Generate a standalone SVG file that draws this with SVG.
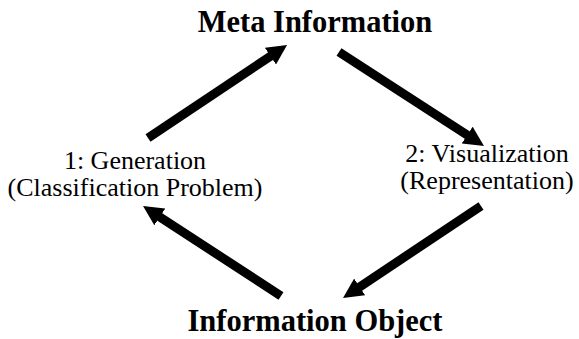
<svg xmlns="http://www.w3.org/2000/svg" width="579" height="339" viewBox="0 0 579 339">
  <style>
    text { font-family: 'Liberation Serif', Tinos, 'Times New Roman', Times, serif; fill: #000; text-anchor: middle; }
    .title { font-weight: bold; font-size: 30.5px; }
    .label { font-size: 26px; }
    .conn { stroke: #000; stroke-width: 9; fill: none; marker-end: url(#head); }
  </style>
  <defs>
    <marker id="head" viewBox="0 0 20 20" refX="5" refY="10" markerWidth="20" markerHeight="20" markerUnits="userSpaceOnUse" orient="auto">
      <path d="M0,0 L20,10 L0,20 z" fill="#000"/>
    </marker>
  </defs>
  <rect width="579" height="339" fill="#fff"/>

  <g id="meta-information">
    <text class="title" x="315" y="32" font-family="Liberation Serif">Meta Information</text>
  </g>
  <g id="generation">
    <text class="label" x="135" y="169" font-family="Liberation Serif">1: Generation</text>
    <text class="label" x="135" y="195.5" font-family="Liberation Serif">(Classification Problem)</text>
  </g>
  <g id="visualization">
    <text class="label" x="487" y="162" font-family="Liberation Serif">2: Visualization</text>
    <text class="label" x="487" y="188.5" font-family="Liberation Serif">(Representation)</text>
  </g>
  <g id="information-object">
    <text class="title" x="315" y="331" font-family="Liberation Serif">Information Object</text>
  </g>

  <g id="connectors">
    <line class="conn" x1="148" y1="138" x2="274.6" y2="53.4"/>
    <line class="conn" x1="339" y1="52" x2="471.4" y2="137.8"/>
    <line class="conn" x1="481" y1="206" x2="355.5" y2="289.7"/>
    <line class="conn" x1="281" y1="296" x2="155.6" y2="214.2"/>
  </g>
</svg>
